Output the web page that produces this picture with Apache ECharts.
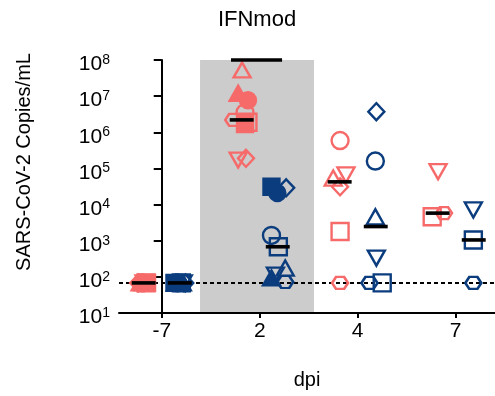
<!DOCTYPE html>
<html>
<head>
<meta charset="utf-8">
<script src="https://cdn.jsdelivr.net/npm/echarts@6/dist/echarts.min.js"></script>
<style>
  html, body { margin: 0; padding: 0; background: #fff; }
  #chart { width: 495px; height: 396px; }
</style>
</head>
<body>
<div id="chart"></div>
<script>
// Sampling days (dpi) shown on the x axis
const days = ['-7', '2', '4', '7'];
// Limit of detection (copies/mL)
const LOD = 68;

// Group A (red) – copies/mL per day [-7, 2, 4, 7]; null = not sampled
const aCircle         = [LOD, 3.5e6, 5.9e5, null];
const aSquare         = [LOD, 1.9e6, 1.8e3, 4.6e3];
const aTriangle       = [LOD, 5.3e7, 5.4e4, null];
const aTriangleDown   = [LOD, 1.7e5, 6.6e4, 8.1e4];
const aDiamond        = [LOD, 1.9e5, 3.1e4, null];
const aHexagon        = [LOD, 2.2e6, LOD, 5.8e3];
const aCircleFilled   = [LOD, 7.7e6, null, null];
const aSquareFilled   = [LOD, 1.7e6, null, null];
const aTriangleFilled = [LOD, 1.2e7, null, null];

// Group B (blue) – copies/mL per day [-7, 2, 4, 7]
const bCircle         = [LOD, 1.4e3, 1.6e5, null];
const bSquare         = [LOD, 680, LOD, 1.05e3];
const bTriangle       = [LOD, 175, 4.6e3, null];
const bTriangleDown   = [LOD, 112, 330, 7.1e3];
const bDiamond        = [LOD, 2.9e4, 3.7e6, null];
const bHexagon        = [LOD, 72, LOD, LOD];
const bCircleFilled   = [LOD, 2.1e4, null, null];
const bSquareFilled   = [LOD, 3.1e4, null, null];
const bTriangleFilled = [LOD, 93, null, null];

// Upper bar drawn at the top of the day-2 window
const topBarValue = 1e8;

// Y tick exponents (10^1 .. 10^8)
const yExponents = [1, 2, 3, 4, 5, 6, 7, 8];

const RED = '#F66A6A';
const BLUE = '#0B3D7E';
const FONT = '"Liberation Sans", Arial, Helvetica, sans-serif';

// Horizontal scatter offsets (in category units) so overlapping animals stay visible
const jitterA = {
  circle:         [-0.20, -0.15, -0.18, 0],
  square:         [-0.16, -0.12, -0.18, -0.24],
  triangle:       [-0.22, -0.18, -0.25, 0],
  triangleDown:   [-0.18, -0.22, -0.12, -0.18],
  diamond:        [-0.24, -0.14, -0.18, 0],
  hexagon:        [-0.20, -0.27, -0.18, -0.12],
  circleFilled:   [-0.17, -0.12, 0, 0],
  squareFilled:   [-0.15, -0.15, 0, 0],
  triangleFilled: [-0.19, -0.22, 0, 0]
};
const jitterB = {
  circle:         [0.16, 0.12, 0.18, 0],
  square:         [0.20, 0.19, 0.25, 0.18],
  triangle:       [0.14, 0.26, 0.18, 0],
  triangleDown:   [0.22, 0.16, 0.19, 0.18],
  diamond:        [0.24, 0.27, 0.19, 0],
  hexagon:        [0.18, 0.26, 0.12, 0.18],
  circleFilled:   [0.17, 0.18, 0, 0],
  squareFilled:   [0.13, 0.12, 0, 0],
  triangleFilled: [0.21, 0.12, 0, 0]
};
const GROUP_OFFSET = 0.184;
const MEDIAN_HALF = 0.122;

const HEX = 'path://M0,5 L3,0 L9,0 L12,5 L9,10 L3,10 Z';
const shapeStyle = {
  circle:         { symbol: 'circle',   size: 17 },
  square:         { symbol: 'rect',     size: 17 },
  triangle:       { symbol: 'triangle', size: [17, 15] },
  triangleDown:   { symbol: 'triangle', size: [17, 15], rotate: 180 },
  diamond:        { symbol: 'diamond',  size: [16, 17] },
  hexagon:        { symbol: HEX,        size: [16, 12] },
  circleFilled:   { symbol: 'circle',   size: 16, filled: true },
  squareFilled:   { symbol: 'rect',     size: 16, filled: true },
  triangleFilled: { symbol: 'triangle', size: [17, 15], filled: true }
};

const groupA = {
  circle: aCircle, square: aSquare, triangle: aTriangle, triangleDown: aTriangleDown,
  diamond: aDiamond, hexagon: aHexagon, circleFilled: aCircleFilled,
  squareFilled: aSquareFilled, triangleFilled: aTriangleFilled
};
const groupB = {
  circle: bCircle, square: bSquare, triangle: bTriangle, triangleDown: bTriangleDown,
  diamond: bDiamond, hexagon: bHexagon, circleFilled: bCircleFilled,
  squareFilled: bSquareFilled, triangleFilled: bTriangleFilled
};

function median(arr) {
  const s = arr.slice().sort((p, q) => p - q);
  const n = s.length;
  return n % 2 ? s[(n - 1) / 2] : (s[n / 2 - 1] + s[n / 2]) / 2;
}
function dayMedians(group) {
  return days.map((_, i) =>
    median(Object.values(group).map(v => v[i]).filter(v => v != null)));
}

function scatterSeries(group, jitter, color) {
  return Object.keys(group).map(key => {
    const st = shapeStyle[key];
    const data = [];
    group[key].forEach((v, i) => { if (v != null) data.push([i + jitter[key][i], v]); });
    return {
      type: 'scatter',
      z: 2,
      data: data,
      symbol: st.symbol,
      symbolSize: st.size,
      symbolRotate: st.rotate || 0,
      itemStyle: {
        color: st.filled ? color : 'rgba(0,0,0,0)',
        borderColor: color,
        borderWidth: 2.4,
        opacity: 1
      },
      emphasis: { disabled: true }
    };
  });
}

function medianSeries(group, offset) {
  const meds = dayMedians(group);
  return {
    type: 'custom',
    z: 5,
    data: meds.map((m, i) => [i + offset, m]),
    renderItem: (params, api) => {
      const x = api.value(0), y = api.value(1);
      const p1 = api.coord([x - MEDIAN_HALF, y]);
      const p2 = api.coord([x + MEDIAN_HALF, y]);
      return {
        type: 'line',
        shape: { x1: p1[0], y1: p1[1], x2: p2[0], y2: p2[1] },
        style: { stroke: '#000', lineWidth: 3.6 }
      };
    }
  };
}

const chart = echarts.init(document.getElementById('chart'), null, { renderer: 'canvas' });

const option = {
  animation: false,
  backgroundColor: '#fff',
  grid: { left: 119, right: 0, top: 60, bottom: 83, containLabel: false },
  xAxis: {
    type: 'value',
    min: -0.436,
    max: 3.401,
    splitLine: { show: false },
    axisLine: { show: true, onZero: false, lineStyle: { color: '#000', width: 2 } },
    axisTick: { show: true, customValues: [0, 1, 2, 3], length: 5, lineStyle: { color: '#000', width: 2 } },
    axisLabel: {
      customValues: [0, 1, 2, 3],
      formatter: v => days[Math.round(v)],
      color: '#000', fontSize: 21, fontFamily: FONT, margin: 8
    },
    name: 'dpi',
    nameLocation: 'middle',
    nameGap: 57,
    nameTextStyle: { color: '#000', fontSize: 20, fontFamily: FONT }
  },
  yAxis: {
    type: 'log',
    logBase: 10,
    min: 10,
    max: 1e8,
    splitLine: { show: false },
    minorTick: { show: false },
    axisLine: { show: true, lineStyle: { color: '#000', width: 2 } },
    axisTick: { show: true, length: 8, lineStyle: { color: '#000', width: 2 } },
    axisLabel: {
      margin: 9,
      formatter: v => {
        const e = Math.round(Math.log10(v));
        return yExponents.indexOf(e) >= 0 ? '{b|10}{e|' + e + '}' : '';
      },
      rich: {
        b: { fontSize: 21, color: '#000', fontFamily: FONT, padding: [9, 0, 0, 0] },
        e: { fontSize: 14, color: '#000', fontFamily: FONT }
      }
    }
  },
  graphic: [
    {
      type: 'text', x: 257, y: 20,
      style: { text: 'IFNmod', font: '22px ' + FONT, fill: '#000', align: 'center', verticalAlign: 'middle' }
    },
    {
      type: 'text', x: 24, y: 162, rotation: Math.PI / 2,
      style: { text: 'SARS-CoV-2 Copies/mL', font: '20px ' + FONT, fill: '#000', align: 'center', verticalAlign: 'middle' }
    }
  ],
  series: [
    // Shaded day-2 window and limit-of-detection line
    {
      type: 'scatter',
      data: [],
      z: 1,
      markArea: {
        silent: true,
        z: 0,
        itemStyle: { color: '#CCCCCC' },
        data: [[{ xAxis: 0.391, yAxis: 10 }, { xAxis: 1.554, yAxis: 1e8 }]]
      },
      markLine: {
        silent: true,
        z: 1,
        symbol: ['none', 'none'],
        label: { show: false },
        lineStyle: { color: '#000', width: 2, type: [4, 3] },
        data: [{ yAxis: LOD }]
      }
    },
    ...scatterSeries(groupA, jitterA, RED),
    ...scatterSeries(groupB, jitterB, BLUE),
    medianSeries(groupA, -GROUP_OFFSET),
    medianSeries(groupB, GROUP_OFFSET),
    // Bar at the top of the day-2 window
    {
      type: 'custom',
      z: 5,
      data: [[1, topBarValue]],
      renderItem: (params, api) => {
        const x = api.value(0), y = api.value(1);
        const p1 = api.coord([x - 0.293, y]);
        const p2 = api.coord([x + 0.228, y]);
        return {
          type: 'line',
          shape: { x1: p1[0], y1: p1[1], x2: p2[0], y2: p2[1] },
          style: { stroke: '#000', lineWidth: 3.6 }
        };
      }
    }
  ]
};

chart.setOption(option);
</script>
</body>
</html>
